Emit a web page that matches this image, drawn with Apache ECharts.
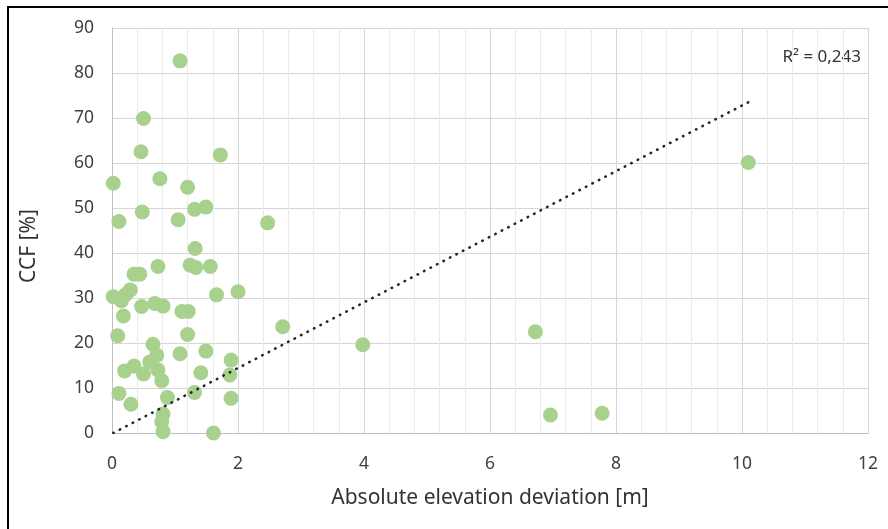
<!DOCTYPE html>
<html>
<head>
<meta charset="utf-8">
<script src="https://cdn.jsdelivr.net/npm/echarts@6/dist/echarts.min.js"></script>
<style>
  html, body { margin: 0; padding: 0; background: #fff; }
  #chart { width: 888px; height: 529px; }
</style>
</head>
<body>
<div id="chart"></div>
<script>
// Absolute elevation deviation [m]
var xValues = [
  1.08, 0.50, 0.46, 1.72, 0.02, 0.76, 1.20,
  0.48, 0.11, 1.05, 1.31, 1.49, 2.47,
  1.32, 0.73, 1.24, 1.33, 1.56, 0.35, 0.44,
  2.00, 1.66, 0.02, 0.15, 0.22, 0.29,
  0.47, 0.68, 0.81, 1.11, 1.21, 0.18,
  2.71, 0.09, 1.20, 0.65, 0.71, 1.08, 1.49, 1.89, 0.60,
  0.35, 0.20, 0.50, 0.73, 1.41, 1.87, 0.79,
  0.11, 0.88, 1.31, 1.89, 0.30, 0.81, 0.79, 0.81, 1.61,
  3.98, 6.72, 6.96, 7.78, 10.10
];
// CCF [%]
var yValues = [
  82.7, 69.9, 62.5, 61.8, 55.5, 56.5, 54.6,
  49.1, 47.0, 47.4, 49.7, 50.2, 46.7,
  41.0, 37.0, 37.3, 36.8, 37.0, 35.3, 35.3,
  31.4, 30.7, 30.3, 29.4, 30.8, 31.8,
  28.1, 28.8, 28.2, 27.0, 27.0, 26.0,
  23.6, 21.6, 21.9, 19.7, 17.3, 17.6, 18.2, 16.2, 15.8,
  14.9, 13.8, 13.1, 14.0, 13.4, 12.9, 11.6,
  8.8, 7.9, 9.0, 7.7, 6.4, 4.2, 2.5, 0.3, 0.0,
  19.6, 22.5, 4.0, 4.4, 60.1
];
// Trendline end points
var trendX = [0.02, 10.10];
var trendY = [0.0, 73.5];
var xTicks = [0, 2, 4, 6, 8, 10, 12];
var yTicks = [0, 10, 20, 30, 40, 50, 60, 70, 80, 90];
var rSquaredText = 'R² = 0,243';

var points = xValues.map(function (x, i) { return [x, yValues[i]]; });
var trend = trendX.map(function (x, i) { return [x, trendY[i]]; });

var FONT = 'Noto Sans';
var chart = echarts.init(document.getElementById('chart'), null, { renderer: 'canvas' });
chart.setOption({
  animation: false,
  backgroundColor: '#ffffff',
  grid: { left: 112, right: 20, top: 28, bottom: 96, containLabel: false },
  xAxis: {
    type: 'value',
    min: xTicks[0], max: xTicks[xTicks.length - 1], interval: 2,
    name: 'Absolute elevation deviation [m]',
    nameLocation: 'middle', nameGap: 55,
    nameTextStyle: { fontFamily: FONT, fontSize: 21, color: '#333333' },
    axisLine: { show: true, onZero: false, lineStyle: { color: '#BFBFBF', width: 1 } },
    axisTick: { show: false },
    minorTick: { show: false, splitNumber: 5 },
    minorSplitLine: { show: true, lineStyle: { color: '#EBEBEB', width: 1 } },
    splitLine: { show: true, lineStyle: { color: '#D6D6D6', width: 1 } },
    axisLabel: { margin: 22, fontFamily: FONT, fontSize: 17.5, color: '#404040' }
  },
  yAxis: {
    type: 'value',
    min: yTicks[0], max: yTicks[yTicks.length - 1], interval: 10,
    axisLine: { show: true, lineStyle: { color: '#BFBFBF', width: 1 } },
    axisTick: { show: false },
    splitLine: { show: true, lineStyle: { color: '#D6D6D6', width: 1 } },
    axisLabel: { margin: 18, fontFamily: FONT, fontSize: 17.5, color: '#404040' }
  },
  series: [
    {
      type: 'scatter',
      data: points,
      symbol: 'circle',
      symbolSize: 15,
      itemStyle: { color: '#A9D18E', opacity: 1 },
      z: 2
    },
    {
      type: 'line',
      data: trend,
      symbol: 'none',
      lineStyle: { color: '#262626', width: 2.6, type: [0.5, 6.8], cap: 'round' },
      z: 3
    }
  ],
  graphic: [
    { type: 'rect', shape: { x: 7, y: 6, width: 2, height: 523 }, style: { fill: '#000' } },
    { type: 'rect', shape: { x: 7, y: 6, width: 881, height: 2 }, style: { fill: '#000' } },
    {
      type: 'text', x: 29, y: 246, rotation: Math.PI / 2,
      style: { text: 'CCF [%]', fontFamily: FONT, fontSize: 21, fill: '#333333', align: 'center', verticalAlign: 'middle' }
    },
    {
      type: 'text', x: 861, y: 57,
      style: { text: rSquaredText, fontFamily: FONT, fontSize: 17, fill: '#333333', align: 'right', verticalAlign: 'middle' }
    }
  ]
});
</script>
</body>
</html>
